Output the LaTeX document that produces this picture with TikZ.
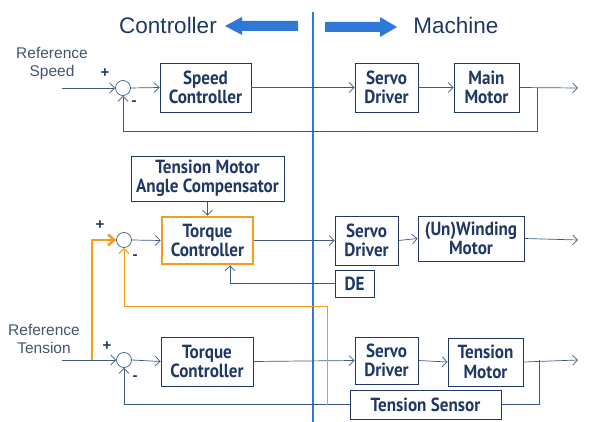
\documentclass[tikz,border=0pt]{standalone}
\usepackage{fontspec}
\setmainfont{Liberation Sans}
\newfontfamily\boxfont[FakeStretch=0.9]{PT Sans}
\usetikzlibrary{arrows.meta}

\definecolor{navy}{HTML}{1F3864}
\definecolor{linec}{HTML}{3E5A82}
\definecolor{labc}{HTML}{44546A}
\definecolor{divc}{HTML}{2F78D8}
\definecolor{orng}{HTML}{F59C1A}

\tikzset{
  blk/.style={draw=navy, line width=0.9pt, fill=white, align=center, inner sep=0pt,
    font=\boxfont\bfseries\fontsize{19}{19.5}\selectfont, text=navy},
  sumc/.style={circle, draw=linec, line width=0.7pt, minimum size=15pt, inner sep=0pt},
  sig/.style={draw=linec, line width=0.7pt, -{Straight Barb[length=5pt,width=10pt]}},
  lbl/.style={align=center, text=labc, font=\fontsize{15.5}{18}\selectfont},
  sgn/.style={text=navy, font=\bfseries\fontsize{15}{15}\selectfont, inner sep=0pt},
}

\begin{document}
\begin{tikzpicture}[x=1pt,y=-1pt]
\useasboundingbox (0,0) rectangle (590,422);

% titles and divider
\node[text=navy, font=\fontsize{22.5}{22.5}\selectfont] (ctl) at (168,25) {Controller};
\node[text=navy, font=\fontsize{22.5}{22.5}\selectfont] (mch) at (456,25) {Machine};
\fill[divc] (225,26) -- (242,17) -- (242,21) -- (298,21) -- (298,31) -- (242,31) -- (242,35) -- cycle;
\fill[divc] (397,27) -- (380,17) -- (380,22) -- (325,22) -- (325,32) -- (380,32) -- (380,37) -- cycle;
\draw[divc, line width=2.6pt] (313,12) -- (313,422);

% speed loop
\node[lbl] (rs) at (52,64) {Reference\\Speed};
\coordinate (in1) at (62,88);
\node[sumc] (s1) at (123,88) {};
\node[blk, minimum width=91pt, minimum height=49pt] (spc) at (205.5,87.5) {Speed\\Controller};
\node[blk, minimum width=63pt, minimum height=49pt] (sd1) at (386.5,87.5) {Servo\\Driver};
\node[blk, minimum width=65pt, minimum height=49pt] (mm) at (486.5,87.5) {Main\\Motor};
\coordinate (out1) at (578,88);
\coordinate (fb1) at (537,88);
\node[sgn] (p1) at (105,73) {+};
\node[sgn] (m1) at (134,103) {-};

\draw[sig] (in1) -- (s1.west);
\draw[sig] (s1.east) -- (spc.west);
\draw[sig] (spc.east) -- (sd1.west);
\draw[sig] (sd1.east) -- (mm.west);
\draw[sig] (mm.east) -- (out1);
\draw[sig] (fb1) -- ++(0,43) -| (s1.south);

% winding loop
\node[blk, minimum width=153pt, minimum height=45pt] (cmp) at (207.5,178.5) {Tension Motor\\Angle Compensator};
\node[sumc] (s2) at (124,240) {};
\node[blk, draw=orng, line width=2.6pt, minimum width=91pt, minimum height=47pt] (tc2) at (207.5,240.5) {Torque\\Controller};
\node[blk, minimum width=63pt, minimum height=49pt] (sd2) at (366.5,240.5) {Servo\\Driver};
\node[blk, minimum width=106pt, minimum height=45pt] (wm) at (471,238.5) {(Un)Winding\\Motor};
\node[blk, minimum width=39pt, minimum height=27pt] (de) at (354.5,283.5) {DE};
\coordinate (out2) at (578,240);
\node[sgn] (p2) at (100,225) {+};
\node[sgn] (m2) at (135,257) {-};

\draw[sig] (cmp.south) -- (tc2.north);
\draw[sig] (s2.east) -- (tc2.west);
\draw[sig] (tc2.east) -- (sd2.west);
\draw[sig] (sd2.east) -- (wm.west);
\draw[sig] (wm.east) -- (out2);
\draw[sig] (de.west) -| ([xshift=22.5pt]tc2.south);

% tension loop
\node[lbl] (rt) at (44,339) {Reference\\Tension};
\coordinate (in3) at (62,360);
\node[sumc] (s3) at (124,360) {};
\node[blk, minimum width=92pt, minimum height=49pt] (tc3) at (207,361.5) {Torque\\Controller};
\node[blk, minimum width=63pt, minimum height=47pt] (sd3) at (386.5,360.5) {Servo\\Driver};
\node[blk, minimum width=75pt, minimum height=48pt] (tm) at (485.5,362) {Tension\\Motor};
\node[blk, minimum width=151pt, minimum height=29pt] (ts) at (425.5,404.5) {Tension Sensor};
\coordinate (out3) at (578,360);
\coordinate (fb3) at (539,360);
\node[sgn] (p3) at (107,346) {+};
\node[sgn] (m3) at (135,378) {-};

\draw[sig] (in3) -- (s3.west);
\draw[sig] (s3.east) -- (tc3.west);
\draw[sig] (tc3.east) -- (sd3.west);
\draw[sig] (sd3.east) -- (tm.west);
\draw[sig] (tm.east) -- (out3);
\draw[linec, line width=0.7pt] (fb3) |- (ts.east);
\draw[sig] (ts.west) -| (s3.south);

% tension reference into the winding loop
\coordinate (ob) at (92,360);
\coordinate (ofb) at (327,405);
\draw[orng, line width=1pt, -{Straight Barb[length=5pt,width=10pt]}] (ofb) -- ++(0,-98) -| (s2.south);
\draw[orng, line width=2.6pt, line join=round, -{Straight Barb[length=6pt,width=11pt]}] (ob) |- (s2.west);

\end{tikzpicture}
\end{document}
